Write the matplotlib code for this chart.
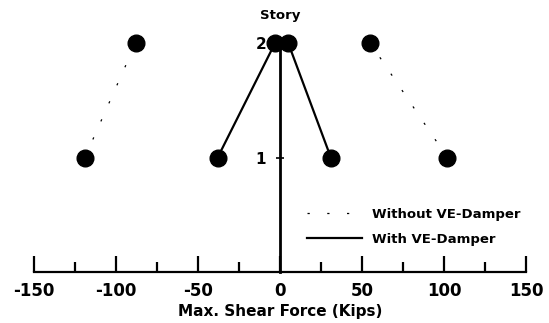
import matplotlib
matplotlib.use("Agg")
from matplotlib import pyplot as plt
from matplotlib.lines import Line2D

# max. shear force per story (kips)
stories = [1, 2]
without_left = [-119, -88]
without_right = [102, 55]
with_left = [-38, -3]
with_right = [31, 5]

x_major = [-150, -100, -50, 0, 50, 100, 150]
x_minor = [-125, -75, -25, 25, 75, 125]

plt.rcParams['font.family'] = ['DejaVu Sans']
plt.rcParams['font.weight'] = 'bold'

fig = plt.figure(figsize=(5.49, 3.23), dpi=100)
ax = fig.add_axes([34 / 549, 51 / 323, 492 / 549, 229 / 323])
ax.set_xlim(-150, 150)
ax.set_ylim(0, 2)

dash = (0, (1.8, 14))
for xs in (without_left, without_right):
    ax.plot(xs, stories, color='black', lw=0.9, ls=dash,
            marker='o', ms=12, zorder=3, clip_on=False)
for xs in (with_left, with_right):
    ax.plot(xs, stories, color='black', lw=1.6, ls='-',
            marker='o', ms=12, zorder=3, clip_on=False)

# axes: base line at story 0, vertical line through zero force
for s in ['top', 'right']:
    ax.spines[s].set_visible(False)
ax.spines['left'].set_position(('data', 0))
ax.spines['left'].set_linewidth(2)
ax.spines['bottom'].set_linewidth(1.6)

ax.set_xticks(x_major)
ax.set_xticks(x_minor, minor=True)
ax.tick_params(axis='x', which='major', direction='in', length=11.5, width=1.6,
               pad=7, labelsize=12)
ax.tick_params(axis='x', which='minor', direction='in', length=7, width=1.6)
ax.set_xticklabels(['%d' % v for v in x_major], fontweight='bold')

ax.set_yticks(stories)
ax.set_yticklabels(['%d' % s for s in stories], fontweight='bold')
ax.tick_params(axis='y', direction='inout', length=6, width=1.2, pad=7, labelsize=11)

ax.set_xlabel('Max. Shear Force (Kips)', fontsize=11, fontweight='bold', labelpad=3)
ax.text(0, 2.24, 'Story', ha='center', va='center', fontsize=9.5, fontweight='bold')

handles = [Line2D([], [], color='black', lw=0.9, ls=dash),
           Line2D([], [], color='black', lw=1.6, ls='-')]
ax.legend(handles, ['Without VE-Damper', 'With VE-Damper'],
          loc='upper left', bbox_to_anchor=(295 / 549, 1 - 196 / 323),
          bbox_transform=fig.transFigure, frameon=False,
          handlelength=4.2, handletextpad=0.75, labelspacing=0.9,
          prop={'weight': 'bold', 'size': 9.5})

fig.savefig('out.png', dpi=100)
